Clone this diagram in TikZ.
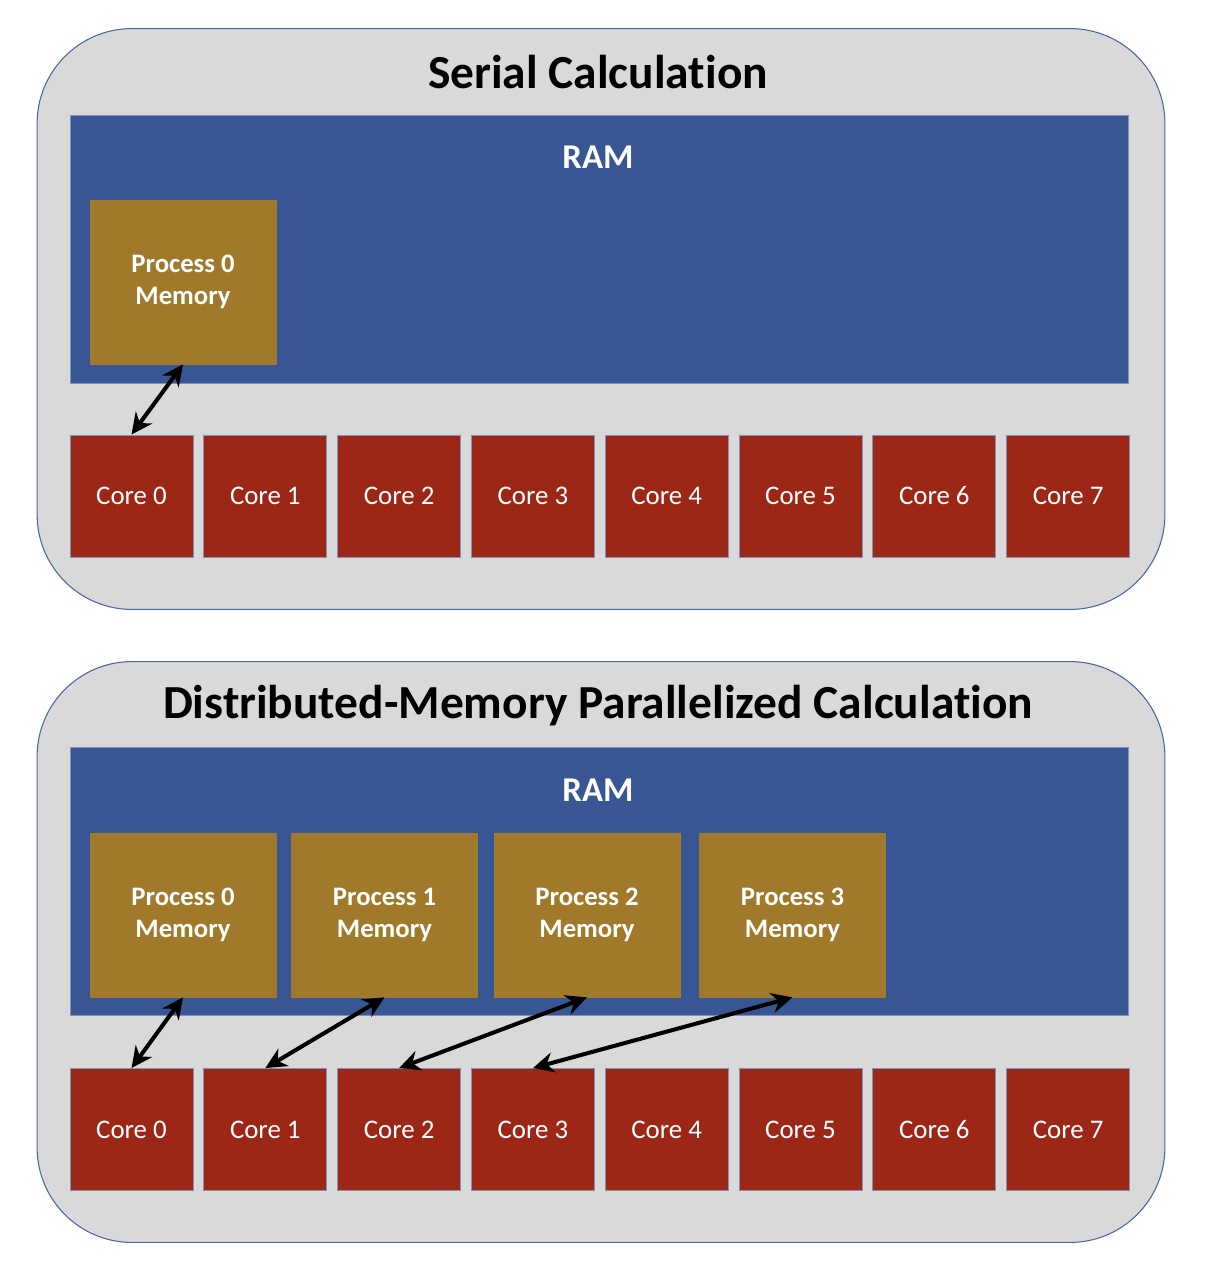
\documentclass[tikz,border=0pt]{standalone}
\usepackage{fontspec}
\setmainfont{Carlito}[Ligatures={NoCommon,NoContextual}]
\usetikzlibrary{arrows.meta,positioning}
\definecolor{panelfill}{HTML}{D9D9D9}
\definecolor{paneledge}{HTML}{4A66A0}
\definecolor{ramblue}{HTML}{375693}
\definecolor{procgold}{HTML}{A07A2A}
\definecolor{corered}{HTML}{9C2716}
\definecolor{boxedge}{HTML}{7F93BE}
\newcommand{\calcword}{Calculat\kern0pt ion}

\begin{document}
\begin{tikzpicture}[
  x=0.02cm,y=-0.02cm,
  panel/.style={draw=paneledge,line width=0.6pt,fill=panelfill,
                rounded corners=1.9cm,minimum width=22.56cm,
                minimum height=11.62cm,inner sep=0pt},
  ram/.style={draw=boxedge,line width=0.5pt,fill=ramblue,
              minimum width=21.18cm,minimum height=5.36cm,inner sep=0pt},
  mem/.style={draw=procgold!85!gray,line width=0.4pt,fill=procgold,
              minimum width=3.72cm,minimum height=3.28cm,inner sep=0pt,
              text=white,align=center,
              font=\bfseries\fontsize{15.2}{18}\selectfont},
  core/.style={draw=boxedge,line width=0.5pt,fill=corered,
               minimum width=2.46cm,minimum height=2.44cm,inner sep=0pt,
               text=white,font=\fontsize{15.3}{18}\selectfont},
  ttl/.style={font=\bfseries\fontsize{27}{32}\selectfont},
  ramlab/.style={text=white,font=\bfseries\fontsize{19.8}{24}\selectfont},
  link/.style={{Stealth[length=12pt,width=11.5pt]}-{Stealth[length=12pt,width=11.5pt]},
               line width=2.3pt}
]
\useasboundingbox (0,0) rectangle (1216,1280);

% serial
\node[panel] (serial) at (601,319) {};
\node[ttl] (sttl) at (598,72) {Serial \calcword};
\node[ram] (sram) at (599.5,249) {};
\node[ramlab] (sramlab) at (598,157) {RAM};
\node[mem] (sp0) at (183,282) {Process 0\\Memory};
\foreach \i in {0,...,7}
  \node[core] (sc\i) at ({131.5+133.8*\i},496) {Core \i};

\draw[link] (sp0.south) -- (sc0.north);

% distributed
\node[panel] (dist) at (601,952) {};
\node[ttl] (dttl) at (598,706) {Distributed-Memory Parallelized \calcword};
\node[ram] (dram) at (599.5,881.5) {};
\node[ramlab] (dramlab) at (598,790) {RAM};
\node[mem] (dp0) at (183,915) {Process 0\\Memory};
\node[mem] (dp1) at (384.5,915) {Process 1\\Memory};
\node[mem] (dp2) at (587,915) {Process 2\\Memory};
\node[mem] (dp3) at (792.5,915) {Process 3\\Memory};
\foreach \i in {0,...,7}
  \node[core] (dc\i) at ({131.5+133.8*\i},1129.5) {Core \i};

\draw[link] (dp0.south) -- (dc0.north);
\draw[link] (dp1.south) -- (dc1.north);
\draw[link] (dp2.south) -- (dc2.north);
\draw[link] (dp3.south) -- (dc3.north);

\end{tikzpicture}
\end{document}
